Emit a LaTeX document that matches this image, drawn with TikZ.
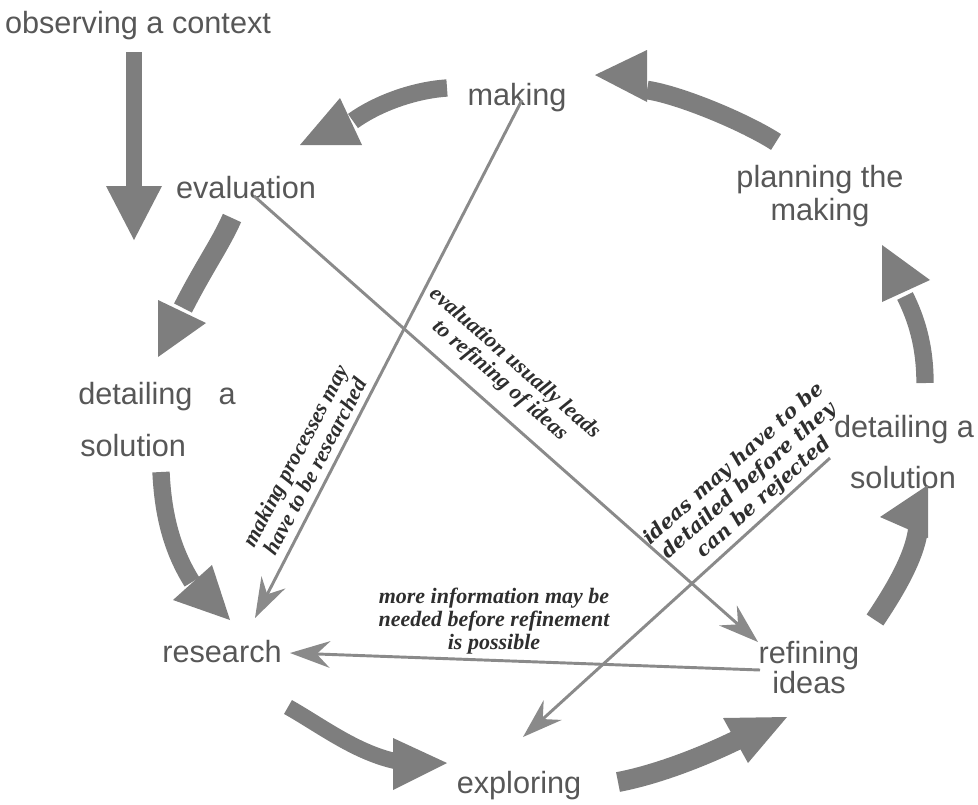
\documentclass[tikz,border=0pt]{standalone}
\usepackage{fontspec}
\setmainfont{Liberation Sans}
\newfontfamily\labfont{Liberation Serif}
\newfontfamily\labfontwide{DejaVu Serif}
\usetikzlibrary{arrows.meta}
\definecolor{arrgray}{HTML}{7E7E7E}
\definecolor{linegray}{HTML}{8A8A8A}
\definecolor{txtgray}{HTML}{575757}
\definecolor{labgray}{HTML}{2E2E2E}
\begin{document}
\begin{tikzpicture}[x=0.75pt,y=-0.75pt,
  stage/.style={anchor=base, text=txtgray, font=\fontsize{23}{26}\selectfont, inner sep=0pt},
  note/.style={text=labgray, font=\labfont\bfseries\itshape\fontsize{16.5}{17}\selectfont, align=center, inner sep=0pt},
  widenote/.style={text=labgray, font=\labfontwide\bfseries\itshape\fontsize{15}{17}\selectfont, align=center, inner sep=0pt},
  thinarrow/.style={draw=linegray, line width=2.2pt, -{Stealth[length=30pt,width=20pt,inset=10pt]}},
  shaft/.style={draw=arrgray, line width=#1},
  head/.style={fill=arrgray}]
\useasboundingbox (0,0) rectangle (978,804);

% stage texts
\node[stage] (obs) at (138,33) {observing a context};
\node[stage] (mak) at (517,105) {making};
\node[stage] (eva) at (246,198) {evaluation};
\node[stage] (pla1) at (820,187) {planning the};
\node[stage] (pla2) at (820,220) {making};
\node[stage, anchor=base west] (detl1) at (78,404) {detailing\hspace{0.85em}a};
\node[stage, anchor=base west] (detl2) at (80,456) {solution};
\node[stage] (detr1) at (904,437) {detailing a};
\node[stage] (detr2) at (903,488) {solution};
\node[stage] (res) at (222,662) {research};
\node[stage] (ref1) at (809,663) {refining};
\node[stage] (ref2) at (809,693) {ideas};
\node[stage] (exp) at (519,793) {exploring};

% thick cycle arrows
\coordinate (a0s) at (134,52);  \coordinate (a0e) at (134,188);
\draw[shaft=12pt] (a0s) -- (a0e);
\fill[head] (134,240) -- (106,186) -- (162,186) -- cycle;

\coordinate (a1s) at (447,88); \coordinate (a1e) at (353,121);
\draw[shaft=13pt] (a1s) .. controls (415,90) and (378,103) .. (a1e);
\fill[head] (300,145) -- (340,98) -- (362,145) -- cycle;

\coordinate (a2s) at (232,218); \coordinate (a2e) at (183,308);
\draw[shaft=15pt] (a2s) .. controls (220,245) and (205,265) .. (a2e);
\fill[head] (158,357) -- (158,300) -- (206,323) -- cycle;

\coordinate (a3s) at (161,472); \coordinate (a3e) at (192,582);
\draw[shaft=13pt] (a3s) .. controls (163,515) and (172,550) .. (a3e);
\fill[head] (230,620) -- (173,600) -- (212,565) -- cycle;

\coordinate (a4s) at (288,707); \coordinate (a4e) at (395,761);
\draw[shaft=12pt] (a4s) .. controls (320,725) and (355,752) .. (a4e);
\fill[head] (447,763) -- (393,738) -- (393,790) -- cycle;

\coordinate (a5s) at (618,782); \coordinate (a5e) at (737,740);
\draw[shaft=15pt] (a5s) .. controls (655,775) and (700,758) .. (a5e);
\fill[head] (787,717) -- (723,718) -- (748,763) -- cycle;

\coordinate (a6s) at (875,620); \coordinate (a6e) at (918,530);
\draw[shaft=15pt] (a6s) .. controls (895,590) and (914,558) .. (a6e);
\fill[head] (928,485) -- (880,517) -- (928,538) -- cycle;

\coordinate (a7s) at (925,383); \coordinate (a7e) at (905,296);
\draw[shaft=13pt] (a7s) .. controls (925,345) and (916,318) .. (a7e);
\fill[head] (882,245) -- (930,280) -- (882,302) -- cycle;

\coordinate (a8s) at (776,142); \coordinate (a8e) at (647,90);
\draw[shaft=14pt] (a8s) .. controls (745,122) and (680,95) .. (a8e);
\fill[head] (595,75) -- (647,50) -- (647,102) -- cycle;

% thin arrows
\coordinate (m0) at (522,100); \coordinate (r0) at (255,618);
\draw[thinarrow] (m0) -- (r0);
\coordinate (e0) at (254,196); \coordinate (f0) at (758,642);
\draw[thinarrow] (e0) -- (f0);
\coordinate (f1) at (760,670); \coordinate (r1) at (290,653);
\draw[thinarrow] (f1) -- (r1);
\coordinate (d0) at (830,458); \coordinate (x0) at (523,737);
\draw[thinarrow] (d0) -- (x0);

% notes
\node[note, rotate=62] (n1) at (305,461) {making processes may\\have to be researched};
\node[note, rotate=-41] (n2) at (507,372) {evaluation usually leads\\to refining of ideas};
\node[widenote, rotate=41.5] (n3) at (749,481) {ideas may have to be\\detailed before they\\can be rejected};
\node[note] (n4) at (494,621) {more information may be\\needed before refinement\\is possible};
\end{tikzpicture}
\end{document}
